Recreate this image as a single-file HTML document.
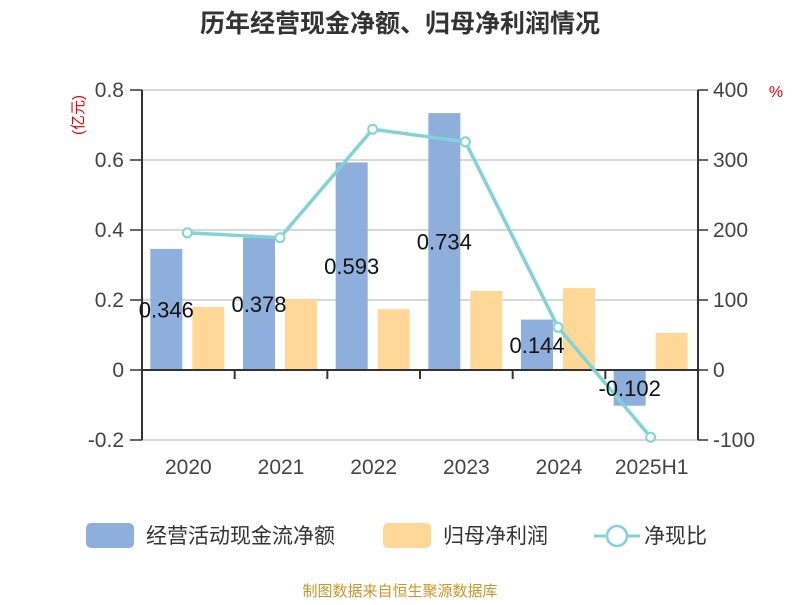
<!DOCTYPE html>
<html><head><meta charset="utf-8"><style>
body{margin:0;background:#fff;}
svg text{font-family:"Liberation Sans","Noto Sans CJK SC",sans-serif;}
</style></head><body>
<svg width="800" height="600" xmlns="http://www.w3.org/2000/svg">
<text x="400" y="32" text-anchor="middle" font-size="25" font-weight="bold" fill="#333">历年经营现金净额、归母净利润情况</text>
<g id="grid"></g>
<g id="bars"></g>
<g id="axes"></g>
<g id="line"></g>
<g id="labels"></g>
<text transform="translate(83,115) rotate(-90)" text-anchor="middle" font-size="15" fill="#e00">(亿元)</text>
<text x="776" y="97" text-anchor="middle" font-size="16" fill="#e00">%</text>
<g>
<rect x="86" y="523" width="48" height="25" rx="5" fill="#8eaedb"/>
<text x="146" y="543" font-size="21" fill="#333">经营活动现金流净额</text>
<rect x="383" y="523" width="48" height="25" rx="5" fill="#ffd898"/>
<text x="443" y="543" font-size="21" fill="#333">归母净利润</text>
<line x1="594" y1="536" x2="640" y2="536" stroke="#82d3d6" stroke-width="3"/>
<circle cx="617" cy="536" r="10" fill="#fff" stroke="#82d3d6" stroke-width="2.5"/>
<text x="644" y="543" font-size="21" fill="#333">净现比</text>
</g>
<text x="400" y="596" text-anchor="middle" font-size="15" fill="#c9962a">制图数据来自恒生聚源数据库</text>
</svg>
<script>
const categories=["2020","2021","2022","2023","2024","2025H1"];
const cashflow=[0.346,0.378,0.593,0.734,0.144,-0.102];
const profit=[0.180,0.203,0.174,0.226,0.234,0.106];
const ratio=[196,189,344,326,61,-96];
const leftTicks=[0.8,0.6,0.4,0.2,0,-0.2];
const rightTicks=[400,300,200,100,0,-100];
const NS="http://www.w3.org/2000/svg";
const L=142,R=698,Y0=370;
const yL=v=>Y0-v*350, yR=v=>Y0-v*0.7;
const bw=(R-L)/categories.length, cx=i=>L+bw*(i+0.5);
function mk(tag,attrs,parent,txt){const e=document.createElementNS(NS,tag);for(const k in attrs)e.setAttribute(k,attrs[k]);if(txt!==undefined)e.textContent=txt;document.getElementById(parent).appendChild(e);return e;}
leftTicks.forEach((t,i)=>{
 const g=mk('line',{x1:L,x2:R,y1:yL(t),y2:yL(t),stroke:'#ccc','stroke-width':1.5},'grid');
 
 
 const tl=mk('text',{x:124,y:yL(t)+7,'text-anchor':'end','font-size':21,fill:'#444'},'axes',String(t));
 
 
 const tk=mk('line',{x1:130,x2:L,y1:yL(t),y2:yL(t),stroke:'#333','stroke-width':1.5},'axes');
 
 
});
rightTicks.forEach(t=>{
 const tl=mk('text',{x:713,y:yR(t)+7,'font-size':21,fill:'#444'},'axes',String(t));
 
 
 const tk=mk('line',{x1:R,x2:R+10,y1:yR(t),y2:yR(t),stroke:'#333','stroke-width':1.5},'axes');
 
 
});
[['left-axis',L],['right-axis',R]].forEach(([n,x])=>{
 const a=mk('line',{x1:x,x2:x,y1:yL(0.8),y2:yL(-0.2),stroke:'#333','stroke-width':2},'axes');
 
 
});
const xa=mk('line',{x1:L,x2:R,y1:Y0,y2:Y0,stroke:'#333','stroke-width':2},'axes');


categories.forEach((c,i)=>{
 if(i>0){const tk=mk('line',{x1:L+bw*i,x2:L+bw*i,y1:Y0,y2:Y0+9,stroke:'#333','stroke-width':2},'axes');
 
 }
 const xl=mk('text',{x:cx(i),y:474,'text-anchor':'middle','font-size':21,fill:'#444'},'axes',c);
 
 
 const v=cashflow[i];
 const b=mk('rect',{x:cx(i)-38,width:32,y:Math.min(yL(v),Y0),height:Math.abs(yL(v)-Y0),fill:'#8eaedb'},'bars');
 
 
 const p=profit[i];
 const o=mk('rect',{x:cx(i)+4,width:32,y:Math.min(yL(p),Y0),height:Math.abs(yL(p)-Y0),fill:'#ffd898'},'bars');
 
 
 const lb=mk('text',{x:cx(i)-22,y:(yL(v)+Y0)/2+8,'text-anchor':'middle','font-size':22,fill:'#111'},'labels',String(v));
 
 
});
const pts=ratio.map((r,i)=>(cx(i)-1)+','+yR(r)).join(' ');
const pl=mk('polyline',{points:pts,fill:'none',stroke:'#82d3d6','stroke-width':3.5},'line');


ratio.forEach((r,i)=>{
 const c=mk('circle',{cx:cx(i)-1,cy:yR(r),r:4.5,fill:'#fff',stroke:'#82d3d6','stroke-width':2},'line');
 
 
});
</script>
</body></html>
